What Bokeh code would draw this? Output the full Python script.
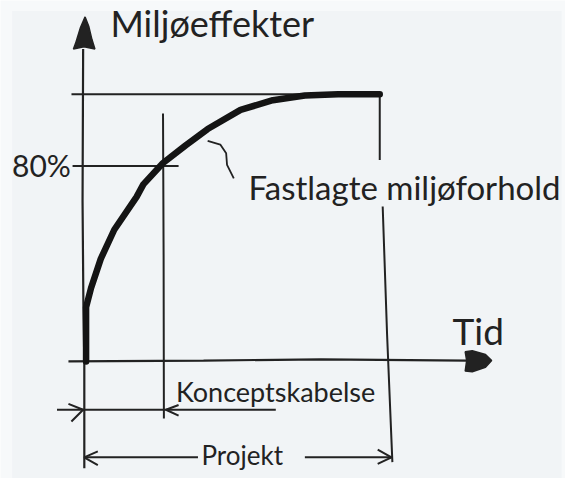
from bokeh.plotting import figure
from bokeh.models import Range1d, ColumnDataSource, BoxAnnotation
from bokeh.core.properties import value
from bokeh.embed import file_html
from bokeh.resources import INLINE

# ---- data (time in % of project, effect in % of final level) ----
curve_time = [0, 0, 1.7, 5.0, 9.6, 17.2, 19.5, 26.2, 33.8, 41.4, 52.6, 63.6, 74.5, 85.8, 100]
curve_effect = [0, 20.3, 27.5, 38.4, 49.3, 61.6, 66.3, 74.3, 80.8, 87.0, 94.2, 97.8, 99.6, 100, 100]

final_level = 100.0
level_80 = 73.2          # the "80%" guide line as drawn
concept_end = 26.2       # end of "Konceptskabelse"
project_end = 100.0      # end of "Projekt"

y_axis_time = [-1.0, -1.2, -0.9, -0.6, -0.6]
y_axis_effect = [117, 60, 20, 0, -40]
x_axis_time = [-6.0, 40, 80, 129.8]
x_axis_effect = [0, 0.3, 0.8, 0.3]

concept_row = -18.1
project_row = -35.9

squiggle_time = [41.4, 45.7, 47.7, 48.0, 50.3]
squiggle_effect = [82.6, 81.2, 77.9, 73.6, 68.5]

label_text = ["Miljøeffekter", "80%", "Fastlagte miljøforhold", "Tid", "Konceptskabelse", "Projekt"]
label_time = [8.3, -25.2, 55.3, 124.8, 30.6, 39.3]
label_effect = [126.7, 73.7, 65.4, 11.7, -11.1, -35.2]
label_size = ["36px", "30px", "33px", "37px", "27px", "26px"]

INK = "#222222"
OUTER = "#f7f9fa"
INNER = "#f1f4f6"

p = figure(width=565, height=478, output_backend="svg", toolbar_location=None,
           x_range=Range1d(-29.14, 163.25), y_range=Range1d(-43.84, 135.14),
           min_border=0, background_fill_color=OUTER, border_fill_color=OUTER)
p.axis.visible = False
p.grid.visible = False
p.outline_line_color = None

# inner panel of the sketch
p.add_layout(BoxAnnotation(left=-25.17, right=161.9, top=131.2, bottom=-43.84,
                           fill_color=INNER, fill_alpha=1.0, line_color=None, level="underlay"))

# axes as hand drawn lines
p.line(y_axis_time, y_axis_effect, line_color=INK, line_width=2.2)
p.line(x_axis_time, x_axis_effect, line_color=INK, line_width=2.2)

# arrow heads (y axis up, x axis right)
p.patch([-0.33, -1.9, -3.6, -4.3, -0.7, 3.0, 2.0, 0.9],
        [129, 125, 119, 117, 117.8, 117, 120.5, 125.5], fill_color=INK, line_color=INK, line_width=1.5)
p.patch([138.1, 136.0, 131.5, 129.1, 129.6, 129.1, 131.5, 136.0],
        [0.3, 2.6, 4.0, 3.6, 0.3, -3.6, -3.9, -2.2], fill_color=INK, line_color=INK, line_width=1.5)

# final level guide line and 80% line
p.line([-4.97, project_end], [final_level, final_level], line_color=INK, line_width=2)
p.line([-4.6, 31.5], [level_80, level_80], line_color=INK, line_width=2)

# vertical at concept end
p.line([concept_end, concept_end + 0.2, concept_end + 0.3], [92.8, 40, -21.4], line_color=INK, line_width=2)
# vertical at project end (broken around the label)
p.line([project_end, project_end], [final_level, 75.4], line_color=INK, line_width=2)
p.line([project_end + 1.0, project_end + 2.5, project_end + 4.3], [58, 10, -37.7], line_color=INK, line_width=2)

# Konceptskabelse dimension line
p.line([-9.9, 64.6], [concept_row, concept_row], line_color=INK, line_width=2)
p.line([-6.0, -1.0, -5.0], [concept_row + 2.2, concept_row, concept_row - 4.4], line_color=INK, line_width=2)
p.line([concept_end + 5.3, concept_end + 1.0, concept_end + 5.3],
       [concept_row + 1.8, concept_row, concept_row - 2.2], line_color=INK, line_width=2)

# Projekt dimension line
p.line([-0.66, 38.1], [project_row, project_row], line_color=INK, line_width=2)
p.line([74.5, project_end + 4.0], [project_row, project_row], line_color=INK, line_width=2)
p.line([4.0, -0.66, 4.0], [project_row + 2.2, project_row, project_row - 2.9], line_color=INK, line_width=2)
p.line([project_end - 0.7, project_end + 4.0, project_end - 0.7],
       [project_row + 2.9, project_row, project_row - 2.5], line_color=INK, line_width=2)

# squiggle pointer
p.line(squiggle_time, squiggle_effect, line_color=INK, line_width=1.8)

# main curve
p.line(curve_time, curve_effect, line_color="#141414", line_width=6.5, line_cap="round", line_join="round")

src = ColumnDataSource(dict(x=label_time, y=label_effect, t=label_text, s=label_size))
p.text("x", "y", text="t", text_font_size="s", source=src, text_color=INK,
       text_font=value("Lato"), text_baseline="alphabetic", text_align="left")

open("out.html", "w").write(file_html(p, INLINE))
